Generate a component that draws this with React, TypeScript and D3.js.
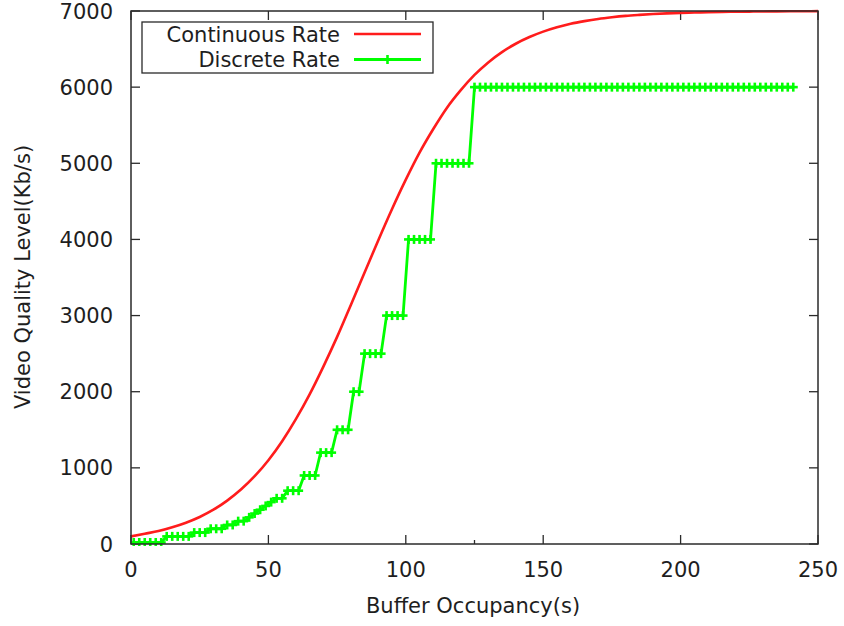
import React from "react";
import * as d3 from "d3";

// ---- data ----
const continuousTime = [0, 5, 10, 15, 20, 25, 30, 35, 40, 45, 50, 55, 60, 65, 70, 75, 80, 85, 90, 95, 100, 105, 110, 115, 120, 125, 130, 135, 140, 145, 150, 155, 160, 165, 170, 175, 180, 185, 190, 195, 200, 205, 210, 215, 220, 225, 230, 235, 240, 245, 250];
const continuousRate = [100, 135, 170, 220, 280, 355, 450, 570, 715, 890, 1100, 1350, 1640, 1965, 2330, 2720, 3140, 3565, 3990, 4400, 4785, 5140, 5450, 5730, 5960, 6160, 6325, 6460, 6570, 6658, 6729, 6786, 6832, 6867, 6896, 6918, 6936, 6949, 6960, 6969, 6976, 6980, 6985, 6988, 6990, 6992, 6994, 6995, 6996, 6997, 6998];

const discreteTime = [
  1, 3, 5, 7, 9, 11, 13, 15, 17, 19, 21, 23, 25, 27, 29, 31, 33, 35, 37, 39,
  41, 43, 45, 47, 49, 51, 53, 55, 57, 59, 61, 63, 65, 67, 69, 71, 73, 75, 77, 79,
  81, 83, 85, 87, 89, 91, 93, 95, 97, 99, 101, 103, 105, 107, 109, 111, 113, 115, 117, 119,
  121, 123, 125, 127, 129, 131, 133, 135, 137, 139, 141, 143, 145, 147, 149, 151, 153, 155, 157, 159,
  161, 163, 165, 167, 169, 171, 173, 175, 177, 179, 181, 183, 185, 187, 189, 191, 193, 195, 197, 199,
  201, 203, 205, 207, 209, 211, 213, 215, 217, 219, 221, 223, 225, 227, 229, 231, 233, 235, 237, 239, 241,
];
const discreteRate = [
  20, 20, 20, 20, 20, 20, 100, 100, 100, 100, 100, 150, 150, 150, 200, 200, 200, 250, 250, 300,
  300, 350, 400, 450, 500, 550, 600, 600, 700, 700, 700, 900, 900, 900, 1200, 1200, 1200, 1500, 1500, 1500,
  2000, 2000, 2500, 2500, 2500, 2500, 3000, 3000, 3000, 3000, 4000, 4000, 4000, 4000, 4000, 5000, 5000, 5000, 5000, 5000,
  5000, 5000, 6000, 6000, 6000, 6000, 6000, 6000, 6000, 6000, 6000, 6000, 6000, 6000, 6000, 6000, 6000, 6000, 6000, 6000,
  6000, 6000, 6000, 6000, 6000, 6000, 6000, 6000, 6000, 6000, 6000, 6000, 6000, 6000, 6000, 6000, 6000, 6000, 6000, 6000,
  6000, 6000, 6000, 6000, 6000, 6000, 6000, 6000, 6000, 6000, 6000, 6000, 6000, 6000, 6000, 6000, 6000, 6000, 6000, 6000, 6000,
];

const xTicks = [0, 50, 100, 150, 200, 250];
const yTicks = [0, 1000, 2000, 3000, 4000, 5000, 6000, 7000];
const extraXTicks = [125];
const seriesNames = ["Continuous Rate", "Discrete Rate"];

// ---- layout ----
const W = 844, H = 626;
const L = 131, R = 818, T = 11, B = 544;
const FONT = "'DejaVu Sans', sans-serif";
const FS = 21;
const TXT = "#1e1e1e";
const AX = "#2a2a2a";
const RED = "#ff1c1c";
const GREEN = "#00ff00";

export default function App() {
  const x = d3.scaleLinear().domain([0, 250]).range([L, R]);
  const y = d3.scaleLinear().domain([0, 7000]).range([B, T]);

  const cont = continuousTime.map((t, i) => [t, continuousRate[i]] as [number, number]);
  const disc = discreteTime.map((t, i) => [t, discreteRate[i]] as [number, number]);

  const contPath = d3.line<[number, number]>().x(d => x(d[0])).y(d => y(d[1])).curve(d3.curveMonotoneX)(cont) || "";
  const discPath = d3.line<[number, number]>().x(d => x(d[0])).y(d => y(d[1]))(disc) || "";

  const tk = 9;
  const m = 4.5; // marker half-size

  return (
    <svg width={W} height={H} style={{ position: "absolute", left: 0, top: 0, background: "#fff" }}>
      <rect x={0} y={0} width={W} height={H} fill="#fff" />
      <defs>
        <clipPath id="plotclip">
          <rect x={L} y={T - 2} width={R - L} height={B - T + 4} />
        </clipPath>
      </defs>

      {/* ticks */}
      <g stroke={AX} strokeWidth={1.3}>
        {xTicks.map(t => (
          <g key={"xt" + t}>
            <line x1={x(t)} x2={x(t)} y1={B} y2={B - tk} />
            <line x1={x(t)} x2={x(t)} y1={T} y2={T + tk} />
          </g>
        ))}
        {extraXTicks.map(t => (
          <line key={"ex" + t} x1={x(t)} x2={x(t)} y1={B} y2={B - 4} />
        ))}
        {yTicks.map(t => (
          <g key={"yt" + t}>
            <line x1={L} x2={L + tk} y1={y(t)} y2={y(t)} />
            <line x1={R} x2={R - tk} y1={y(t)} y2={y(t)} />
          </g>
        ))}
      </g>

      {/* series */}
      <g clipPath="url(#plotclip)">
        <path d={contPath} fill="none" stroke={RED} strokeWidth={2.6} />
        <path d={discPath} fill="none" stroke={GREEN} strokeWidth={2.8} />
        <g stroke={GREEN} strokeWidth={2.6}>
          {disc.map((d, i) => (
            <g key={"m" + i}>
              <line x1={x(d[0]) - m} x2={x(d[0]) + m} y1={y(d[1])} y2={y(d[1])} />
              <line x1={x(d[0])} x2={x(d[0])} y1={y(d[1]) - m} y2={y(d[1]) + m} />
            </g>
          ))}
        </g>
      </g>

      {/* border */}
      <rect x={L} y={T} width={R - L} height={B - T} fill="none" stroke={AX} strokeWidth={1.5} />

      {/* tick labels */}
      <g fontFamily={FONT} fontSize={FS} fill={TXT}>
        {xTicks.map(t => (
          <text key={"xl" + t} x={x(t)} y={577} textAnchor="middle">{t}</text>
        ))}
        {yTicks.map(t => (
          <text key={"yl" + t} x={113} y={y(t) + 7.5} textAnchor="end">{t}</text>
        ))}
        <text x={473} y={613} textAnchor="middle">Buffer Occupancy(s)</text>
        <text transform={`translate(30,277) rotate(-90)`} textAnchor="middle">Video Quality Level(Kb/s)</text>
      </g>

      {/* legend */}
      <rect x={142} y={22} width={291} height={51} fill="#fff" stroke={AX} strokeWidth={1.3} />
      <g fontFamily={FONT} fontSize={FS} fill={TXT}>
        <text x={340} y={41.5} textAnchor="end">{seriesNames[0]}</text>
        <text x={340} y={67} textAnchor="end">{seriesNames[1]}</text>
      </g>
      <line x1={354} x2={421} y1={34} y2={34} stroke={RED} strokeWidth={2.6} />
      <line x1={354} x2={421} y1={59.5} y2={59.5} stroke={GREEN} strokeWidth={2.8} />
      <line x1={387.5 - m} x2={387.5 + m} y1={59.5} y2={59.5} stroke={GREEN} strokeWidth={2.6} />
      <line x1={387.5} x2={387.5} y1={59.5 - m} y2={59.5 + m} stroke={GREEN} strokeWidth={2.6} />
    </svg>
  );
}
